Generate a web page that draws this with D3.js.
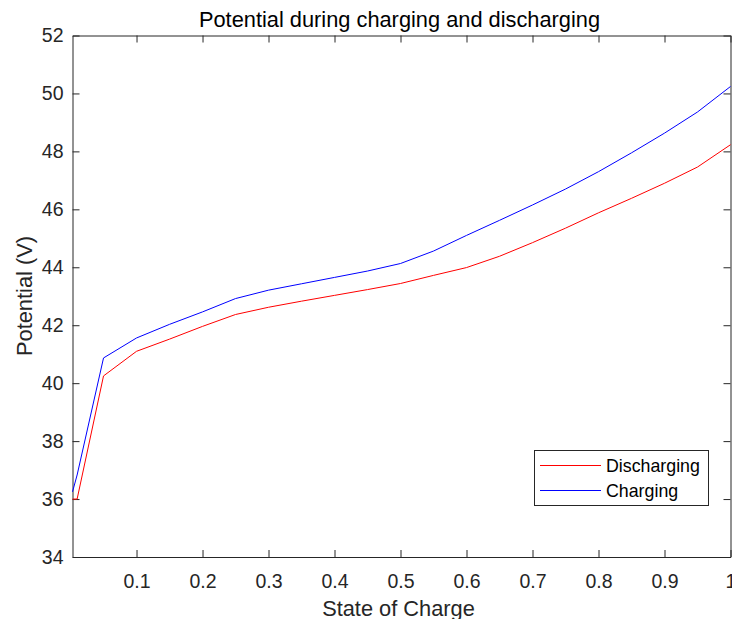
<!DOCTYPE html>
<html><head><meta charset="utf-8">
<script src="https://cdn.jsdelivr.net/npm/d3@7"></script>
<style>body{margin:0;background:#fff;} text{font-family:"Liberation Sans",Arial,sans-serif;}</style>
</head><body>
<svg id="c" width="732" height="619"></svg>
<script>
const soc = [0.003, 0.01, 0.05, 0.1, 0.15, 0.2, 0.25, 0.3, 0.35, 0.4, 0.45, 0.5, 0.55, 0.6, 0.65, 0.7, 0.75, 0.8, 0.85, 0.9, 0.95, 1.0];
const discharging = [36.0, 36.0, 40.25, 41.1, 41.52, 41.96, 42.37, 42.62, 42.83, 43.03, 43.23, 43.44, 43.72, 43.99, 44.38, 44.85, 45.35, 45.88, 46.38, 46.9, 47.46, 48.23];
const charging = [36.25, 36.83, 40.87, 41.56, 42.03, 42.46, 42.92, 43.21, 43.43, 43.65, 43.87, 44.13, 44.56, 45.1, 45.62, 46.15, 46.7, 47.3, 47.95, 48.63, 49.36, 50.24];
const xTicks = [0.1, 0.2, 0.3, 0.4, 0.5, 0.6, 0.7, 0.8, 0.9, 1];
const yTicks = [34, 36, 38, 40, 42, 44, 46, 48, 50, 52];
const seriesNames = ["Discharging", "Charging"];
const seriesColors = ["#ff0000", "#0000ff"];

const svg = d3.select("#c");
const L = 72.5, R = 730.5, T = 35.5, B = 557;
const x = d3.scaleLinear().domain([0.003, 1]).range([L, R]);
const y = d3.scaleLinear().domain([34, 52]).range([B, T]);
const axCol = "#262626";
const fs = "19.5px";

// axes
const gx = svg.append("g").attr("transform", `translate(0,${B})`)
  .call(d3.axisBottom(x).tickValues(xTicks).tickFormat(d3.format("")).tickSizeInner(-7).tickSizeOuter(0).tickPadding(17));
const gxt = svg.append("g").attr("transform", `translate(0,${T})`)
  .call(d3.axisTop(x).tickValues(xTicks).tickFormat("").tickSizeInner(-7).tickSizeOuter(0));
const gy = svg.append("g").attr("transform", `translate(${L},0)`)
  .call(d3.axisLeft(y).tickValues(yTicks).tickSizeInner(-7).tickSizeOuter(0).tickPadding(9));
const gyr = svg.append("g").attr("transform", `translate(${R},0)`)
  .call(d3.axisRight(y).tickValues(yTicks).tickFormat("").tickSizeInner(-7).tickSizeOuter(0));
[gx, gxt, gy, gyr].forEach(g => {
  g.selectAll("path,line").attr("stroke", axCol).attr("stroke-width", 1);
  g.selectAll("text").attr("fill", axCol).style("font-size", fs).style("font-family", "'Liberation Sans', Arial, sans-serif");
});

// lines
const line = d3.line().x((d, i) => x(soc[i])).y(d => y(d));
[discharging, charging].forEach((s, k) => {
  svg.append("path").datum(s).attr("d", line).attr("fill", "none")
    .attr("stroke", seriesColors[k]).attr("stroke-width", 1);
});

// title and labels
svg.append("text").attr("x", 399.5).attr("y", 27).attr("text-anchor", "middle")
  .attr("fill", "#000").style("font-size", "21.8px").text("Potential during charging and discharging");
svg.append("text").attr("x", 398.5).attr("y", 616).attr("text-anchor", "middle")
  .attr("fill", axCol).style("font-size", "21.8px").text("State of Charge");
svg.append("text").attr("transform", "translate(32,296) rotate(-90)").attr("text-anchor", "middle")
  .attr("fill", axCol).style("font-size", "21.8px").text("Potential (V)");

// legend
const lg = svg.append("g");
lg.append("rect").attr("x", 534.5).attr("y", 450.5).attr("width", 174).attr("height", 55)
  .attr("fill", "#fff").attr("stroke", axCol).attr("stroke-width", 1);
seriesNames.forEach((n, i) => {
  const yy = 465.5 + i * 25;
  lg.append("line").attr("x1", 540).attr("x2", 601).attr("y1", yy).attr("y2", yy)
    .attr("stroke", seriesColors[i]).attr("stroke-width", 1);
  lg.append("text").attr("x", 606).attr("y", yy + 6.5).attr("fill", "#000")
    .style("font-size", "17.8px").text(n);
});
</script>
</body></html>
